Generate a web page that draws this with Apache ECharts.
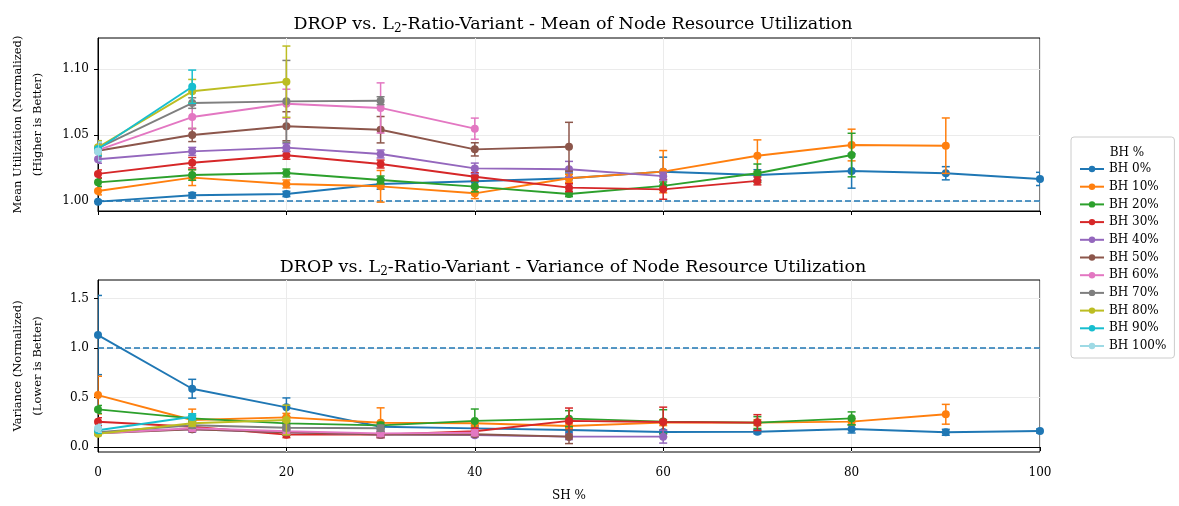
<!DOCTYPE html>
<html>
<head>
<meta charset="utf-8">
<script src="https://cdn.jsdelivr.net/npm/echarts@6/dist/echarts.min.js"></script>
<style>html,body{margin:0;padding:0;background:#fff}#c{width:1179px;height:506px}</style>
</head>
<body>
<div id="c"></div>
<script>
// ---- data ----
const shValues = [0, 10, 20, 30, 40, 50, 60, 70, 80, 90, 100];
const bhNames = ['BH 0%', 'BH 10%', 'BH 20%', 'BH 30%', 'BH 40%', 'BH 50%', 'BH 60%', 'BH 70%', 'BH 80%', 'BH 90%', 'BH 100%'];
const meanTicks = [1.00, 1.05, 1.10];
const varTicks = [0.0, 0.5, 1.0, 1.5];
const meanBaseline = 1.0;
const varBaseline = 1.0;

// Mean utilisation (normalised) per BH, indexed by SH
const meanBH0   = [0.9995, 1.0043, 1.0053, 1.0129, 1.0150, 1.0172, 1.0222, 1.0197, 1.0227, 1.0210, 1.0167];
const meanBH10  = [1.0076, 1.0177, 1.0129, 1.0111, 1.0058, 1.0172, 1.0222, 1.0343, 1.0424, 1.0419];
const meanBH20  = [1.0141, 1.0197, 1.0212, 1.0159, 1.0109, 1.0053, 1.0114, 1.0210, 1.0348];
const meanBH30  = [1.0205, 1.0290, 1.0346, 1.0280, 1.0184, 1.0101, 1.0088, 1.0152];
const meanBH40  = [1.0316, 1.0376, 1.0404, 1.0356, 1.0247, 1.0240, 1.0188];
const meanBH50  = [1.0381, 1.0500, 1.0566, 1.0540, 1.0391, 1.0411];
const meanBH60  = [1.0386, 1.0636, 1.0737, 1.0705, 1.0548];
const meanBH70  = [1.0400, 1.0742, 1.0755, 1.0760];
const meanBH80  = [1.0407, 1.0831, 1.0904];
const meanBH90  = [1.0394, 1.0866];
const meanBH100 = [1.0375];

const meanErrBH0   = [0.001, 0.002, 0.002, 0.004, 0.004, 0.004, 0.011, 0.004, 0.013, 0.005, 0.005];
const meanErrBH10  = [0.003, 0.006, 0.003, 0.012, 0.004, 0.003, 0.016, 0.012, 0.012, 0.021];
const meanErrBH20  = [0.003, 0.004, 0.003, 0.003, 0.004, 0.002, 0.003, 0.007, 0.0165];
const meanErrBH30  = [0.003, 0.004, 0.003, 0.003, 0.003, 0.003, 0.0075, 0.003];
const meanErrBH40  = [0.003, 0.003, 0.003, 0.003, 0.004, 0.006, 0.003];
const meanErrBH50  = [0.004, 0.005, 0.011, 0.010, 0.005, 0.0185];
const meanErrBH60  = [0.004, 0.009, 0.011, 0.019, 0.008];
const meanErrBH70  = [0.004, 0.004, 0.031, 0.003];
const meanErrBH80  = [0.005, 0.009, 0.027];
const meanErrBH90  = [0.005, 0.0126];
const meanErrBH100 = [0.007];

// Variance of utilisation (normalised) per BH, indexed by SH
const varBH0   = [1.131, 0.589, 0.401, 0.205, 0.189, 0.172, 0.152, 0.155, 0.182, 0.149, 0.162];
const varBH10  = [0.525, 0.273, 0.300, 0.246, 0.240, 0.213, 0.247, 0.247, 0.257, 0.331];
const varBH20  = [0.380, 0.290, 0.239, 0.219, 0.264, 0.287, 0.257, 0.247, 0.290];
const varBH30  = [0.256, 0.205, 0.125, 0.125, 0.160, 0.264, 0.253, 0.247];
const varBH40  = [0.150, 0.180, 0.150, 0.125, 0.120, 0.105, 0.105];
const varBH50  = [0.140, 0.180, 0.150, 0.125, 0.130, 0.105];
const varBH60  = [0.140, 0.190, 0.160, 0.138, 0.145];
const varBH70  = [0.150, 0.220, 0.195, 0.190];
const varBH80  = [0.135, 0.240, 0.273];
const varBH90  = [0.170, 0.306];
const varBH100 = [0.190];

const varErrBH0   = [0.40, 0.095, 0.095, 0.03, 0.03, 0.03, 0.02, 0.02, 0.04, 0.03, 0.02];
const varErrBH10  = [0.19, 0.11, 0.04, 0.15, 0.03, 0.03, 0.03, 0.03, 0.03, 0.10];
const varErrBH20  = [0.04, 0.03, 0.03, 0.03, 0.12, 0.08, 0.12, 0.06, 0.065];
const varErrBH30  = [0.04, 0.03, 0.03, 0.03, 0.03, 0.13, 0.15, 0.08];
const varErrBH40  = [0.02, 0.03, 0.03, 0.03, 0.02, 0.03, 0.065];
const varErrBH50  = [0.02, 0.02, 0.03, 0.02, 0.02, 0.07];
const varErrBH60  = [0.02, 0.03, 0.03, 0.03, 0.03];
const varErrBH70  = [0.02, 0.03, 0.03, 0.03];
const varErrBH80  = [0.02, 0.03, 0.15];
const varErrBH90  = [0.03, 0.03];
const varErrBH100 = [0.04];

// ---- styling ----
const colors = ['#1f77b4', '#ff7f0e', '#2ca02c', '#d62728', '#9467bd', '#8c564b', '#e377c2', '#7f7f7f', '#bcbd22', '#17becf', '#9edae5'];
const FONT = 'DejaVu Serif';

const meanList = [meanBH0, meanBH10, meanBH20, meanBH30, meanBH40, meanBH50, meanBH60, meanBH70, meanBH80, meanBH90, meanBH100];
const meanErrList = [meanErrBH0, meanErrBH10, meanErrBH20, meanErrBH30, meanErrBH40, meanErrBH50, meanErrBH60, meanErrBH70, meanErrBH80, meanErrBH90, meanErrBH100];
const varList = [varBH0, varBH10, varBH20, varBH30, varBH40, varBH50, varBH60, varBH70, varBH80, varBH90, varBH100];
const varErrList = [varErrBH0, varErrBH10, varErrBH20, varErrBH30, varErrBH40, varErrBH50, varErrBH60, varErrBH70, varErrBH80, varErrBH90, varErrBH100];

function errRender(color) {
  return function (params, api) {
    const x = api.value(0), y = api.value(1), e = api.value(2);
    const t = api.coord([x, y + e]);
    const b = api.coord([x, y - e]);
    const w = 4;
    const st = { stroke: color, lineWidth: 1.5 };
    return {
      type: 'group',
      children: [
        { type: 'line', shape: { x1: t[0], y1: t[1], x2: b[0], y2: b[1] }, style: st },
        { type: 'line', shape: { x1: t[0] - w, y1: t[1], x2: t[0] + w, y2: t[1] }, style: st },
        { type: 'line', shape: { x1: b[0] - w, y1: b[1], x2: b[0] + w, y2: b[1] }, style: st }
      ]
    };
  };
}

const series = [];
function addSeries(gridIdx, vals, errs) {
  vals.forEach((arr, i) => {
    const c = colors[i];
    const pts = arr.map((v, j) => [shValues[j], v]);
    const ep = arr.map((v, j) => [shValues[j], v, errs[i][j]]);
    series.push({
      type: 'custom', name: bhNames[i] + ' err', xAxisIndex: gridIdx, yAxisIndex: gridIdx,
      data: ep, renderItem: errRender(c), clip: true, z: 10 + i * 2, silent: true
    });
    series.push({
      type: 'line', name: bhNames[i], xAxisIndex: gridIdx, yAxisIndex: gridIdx,
      data: pts, symbol: 'circle', symbolSize: 8, showSymbol: true,
      lineStyle: { color: c, width: 1.9 }, itemStyle: { color: c },
      z: 11 + i * 2, animation: false
    });
  });
}
addSeries(0, meanList, meanErrList);
addSeries(1, varList, varErrList);

// dashed baselines
series.push({
  type: 'line', name: 'baseMean', xAxisIndex: 0, yAxisIndex: 0, data: [], z: 5,
  markLine: { silent: true, symbol: 'none', label: { show: false },
    lineStyle: { color: colors[0], type: [6, 3], width: 1.5 }, data: [{ yAxis: meanBaseline }] }
});
series.push({
  type: 'line', name: 'baseVar', xAxisIndex: 1, yAxisIndex: 1, data: [], z: 5,
  markLine: { silent: true, symbol: 'none', label: { show: false },
    lineStyle: { color: colors[0], type: [6, 3], width: 1.5 }, data: [{ yAxis: varBaseline }] }
});

const axisText = { fontFamily: FONT, fontSize: 12, color: '#000' };
function xAxis(gridIdx, showLabels) {
  return {
    type: 'value', gridIndex: gridIdx, min: 0, max: 100, interval: 20,
    axisLine: { show: true, lineStyle: { color: '#000', width: 1 } },
    axisTick: { show: true, inside: false, length: 4, lineStyle: { color: '#000' } },
    axisLabel: Object.assign({ show: showLabels, margin: 15 }, axisText),
    splitLine: { show: true, lineStyle: { color: '#ebebeb', width: 1 } },
    name: showLabels ? 'SH %' : '', nameLocation: 'middle', nameGap: 38,
    nameTextStyle: axisText
  };
}
function yAxis(gridIdx, min, max, ticks, digits, name) {
  return {
    type: 'value', gridIndex: gridIdx, min: min, max: max,
    axisLine: { show: true, lineStyle: { color: '#000', width: 1 } },
    axisTick: { show: true, length: 4, customValues: ticks, lineStyle: { color: '#000' } },
    axisLabel: Object.assign({ customValues: ticks, margin: 9, formatter: v => v.toFixed(digits) }, axisText),
    splitLine: { show: true, customValues: ticks, lineStyle: { color: '#ebebeb', width: 1 } },
    name: name, nameLocation: 'middle', nameRotate: 90, nameGap: 50,
    nameTextStyle: Object.assign({}, axisText, { fontSize: 11.5, lineHeight: 20 })
  };
}

const titleRich = {
  a: { fontFamily: FONT, fontSize: 17.5, fontWeight: 'normal', color: '#000' },
  s: { fontFamily: FONT, fontSize: 12, fontWeight: 'normal', color: '#000', padding: [9, 0, 0, 0] }
};

const option = {
  animation: false,
  backgroundColor: '#fff',
  title: [
    { text: '{a|DROP vs. L}{s|2}{a|-Ratio-Variant - Mean of Node Resource Utilization}',
      left: 568, textAlign: 'center', top: 9, textStyle: { fontWeight: 'normal', rich: titleRich } },
    { text: '{a|DROP vs. L}{s|2}{a|-Ratio-Variant - Variance of Node Resource Utilization}',
      left: 568, textAlign: 'center', top: 252, textStyle: { fontWeight: 'normal', rich: titleRich } },
    { text: 'BH %', left: 1122, textAlign: 'center', top: 142,
      textStyle: { fontFamily: FONT, fontSize: 12, fontWeight: 'normal', color: '#000' } }
  ],
  grid: [
    { left: 97, right: 139, top: 38, height: 173, show: true, borderColor: '#000', borderWidth: 1, backgroundColor: 'transparent' },
    { left: 97, right: 139, top: 280, height: 172, show: true, borderColor: '#000', borderWidth: 1, backgroundColor: 'transparent' }
  ],
  xAxis: [xAxis(0, false), xAxis(1, true)],
  yAxis: [
    yAxis(0, 0.9924, 1.1235, meanTicks, 2, 'Mean Utilization (Normalized)\n(Higher is Better)'),
    yAxis(1, -0.05, 1.687, varTicks, 1, 'Variance (Normalized)\n(Lower is Better)')
  ],
  legend: {
    orient: 'vertical', left: 1071, top: 137, data: bhNames,
    backgroundColor: '#fff', borderColor: '#cccccc', borderWidth: 1, borderRadius: 3,
    padding: [26, 8, 6, 8], itemGap: 5.7, itemWidth: 24, itemHeight: 8,
    textStyle: { fontFamily: FONT, fontSize: 12, color: '#000' },
    selectedMode: false
  },
  series: series
};

const chart = echarts.init(document.getElementById('c'), null, { renderer: 'canvas' });
chart.setOption(option);
</script>
</body>
</html>
